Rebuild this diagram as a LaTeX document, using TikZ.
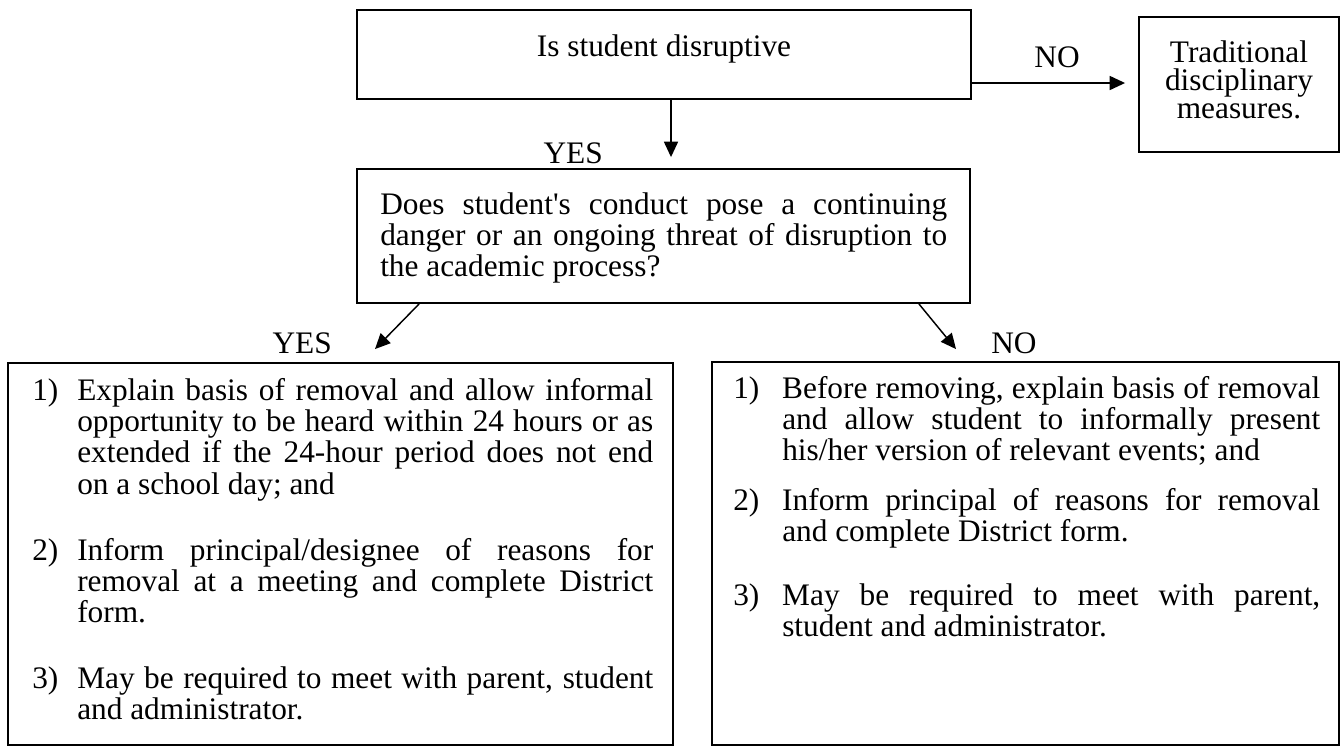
\documentclass[tikz,border=0pt]{standalone}
\usepackage{fontspec}
\setmainfont{Liberation Serif}
\usetikzlibrary{arrows.meta,calc}
\newlength\px \setlength\px{0.75pt}
\newcommand\jl[2]{\makebox[#1\px][s]{#2}}
\begin{document}
\begin{tikzpicture}[x=0.75pt,y=-0.75pt,
  box/.style={draw, line width=1.4pt, inner sep=0pt},
  txt/.style={inner sep=0pt, font=\fontsize{23.5pt}{23.5pt}\selectfont},
  arr/.style={line width=1.1pt, -{Triangle[length=11.5pt,width=10.5pt]}}]
\fill[white] (0,0) rectangle (1340,747);
\useasboundingbox (0,0) rectangle (1340,747);
% boxes
\node[box, minimum width=614\px, minimum height=89\px] (q1) at (664,54.5) {};
\node[box, minimum width=200\px, minimum height=135\px] (trad) at (1239,84.5) {};
\node[box, minimum width=613\px, minimum height=134\px] (q2) at (663.5,236) {};
\node[box, minimum width=665\px, minimum height=382\px] (yesbox) at (340.5,554) {};
\node[box, minimum width=627\px, minimum height=383\px] (nobox) at (1025.5,553.5) {};
% texts
\node[txt, anchor=base] (q1t) at (664,56) {Is student disruptive};
\node[txt, anchor=base] (tradt) at (1239,62) {\parbox[t]{200\px}{\centering\fontsize{23.5pt}{21pt}\selectfont Traditional\\disciplinary\\measures.}};
\node[txt, anchor=base west] (q2t) at (380,214) {\parbox[t]{570\px}{\jl{567}{Does student\textquotesingle s conduct pose a continuing}\\\jl{567}{danger or an ongoing threat of disruption to}\\the academic process?}};
% labels
\node[txt, anchor=base] (lno1) at (1057,67) {NO};
\node[txt, anchor=base east] (lyes1) at (603,163) {YES};
\node[txt, anchor=base east] (lyes2) at (332,353) {YES};
\node[txt, anchor=base west] (lno2) at (991,353) {NO};
% left items
\node[txt, anchor=base west] (y1) at (32,400) {\parbox[t]{630\px}{\makebox[45\px][l]{1)}\jl{576}{Explain basis of removal and allow informal}\\\hspace*{45\px}\jl{576}{opportunity to be heard within 24 hours or as}\\\hspace*{45\px}\jl{576}{extended if the 24-hour period does not end}\\\hspace*{45\px}on a school day; and}};
\node[txt, anchor=base west] (y2) at (32,560) {\parbox[t]{630\px}{\makebox[45\px][l]{2)}\jl{576}{Inform principal/designee of reasons for}\\\hspace*{45\px}\jl{576}{removal at a meeting and complete District}\\\hspace*{45\px}form.}};
\node[txt, anchor=base west] (y3) at (32,688) {\parbox[t]{630\px}{\makebox[45\px][l]{3)}\jl{576}{May be required to meet with parent, student}\\\hspace*{45\px}and administrator.}};
% right items
\node[txt, anchor=base west] (n1) at (733,398) {\parbox[t]{600\px}{\makebox[49\px][l]{1)}\jl{538}{Before removing, explain basis of removal}\\\hspace*{49\px}\jl{538}{and allow student to informally present}\\\hspace*{49\px}his/her version of relevant events; and}};
\node[txt, anchor=base west] (n2) at (733,510) {\parbox[t]{600\px}{\makebox[49\px][l]{2)}\jl{538}{Inform principal of reasons for removal}\\\hspace*{49\px}and complete District form.}};
\node[txt, anchor=base west] (n3) at (733,605) {\parbox[t]{600\px}{\makebox[49\px][l]{3)}\jl{538}{May be required to meet with parent,}\\\hspace*{49\px}student and administrator.}};
% connectors
\draw[arr] ($(q1.south)+(7,0)$) -- ($(q2.north)+(7.5,-11)$);
\draw[arr] ($(q1.east)+(0,28.5)$) -- ($(trad.west)+(-13,-1.5)$);
\draw[arr] ($(q2.south west)+(63,0)$) -- ($(yesbox.north)+(34.5,-13)$);
\draw[arr] ($(q2.south east)+(-52,0)$) -- ($(nobox.north)+(-69.5,-12)$);
\end{tikzpicture}
\end{document}
